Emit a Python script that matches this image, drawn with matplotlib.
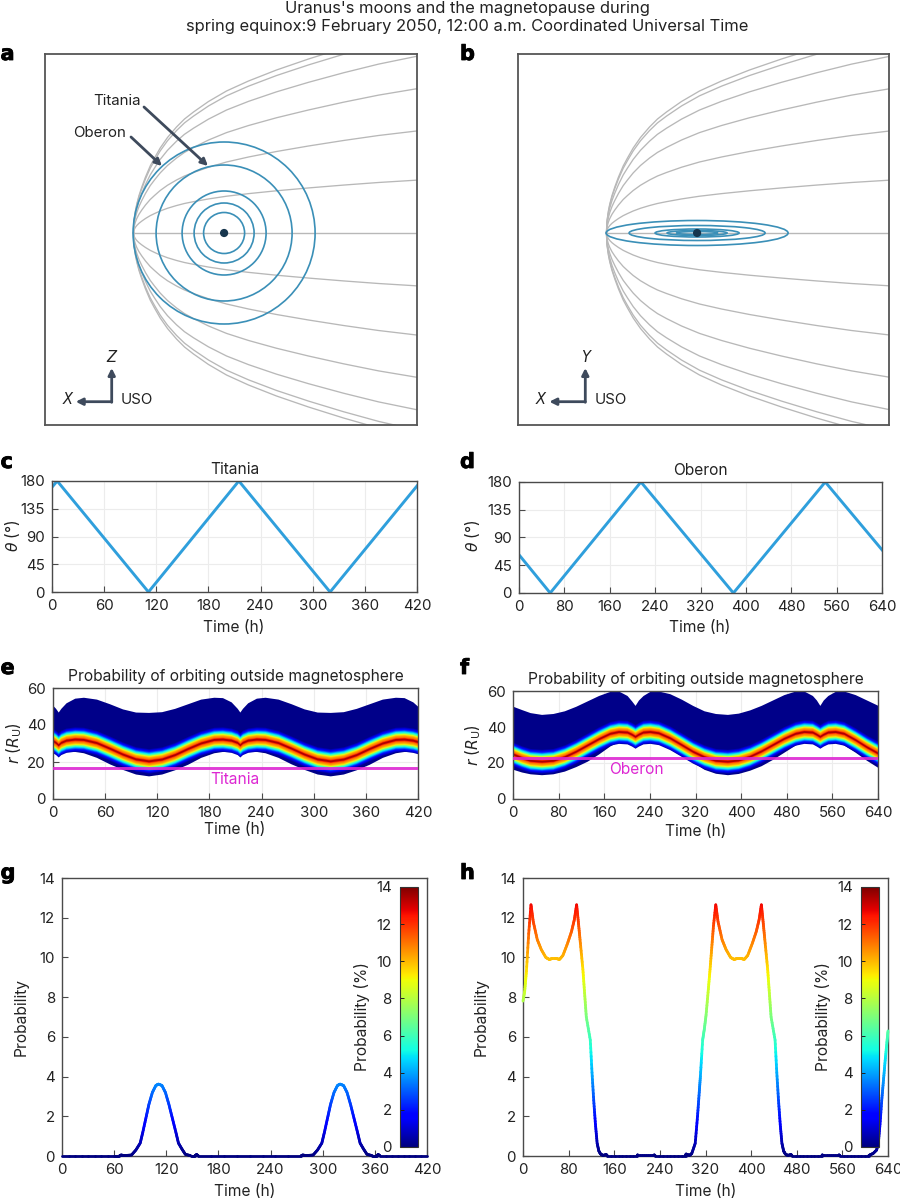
import numpy as np
import matplotlib
matplotlib.use("Agg")
import matplotlib.pyplot as plt
import matplotlib.patheffects as pe
from matplotlib.collections import LineCollection
from matplotlib.colors import Normalize
from matplotlib.patches import Circle, Ellipse, FancyArrowPatch

plt.rcParams["font.family"] = ["Inter", "DejaVu Sans"]
plt.rcParams["mathtext.fontset"] = "custom"
plt.rcParams["mathtext.rm"] = "Inter"
plt.rcParams["mathtext.it"] = "DejaVu Sans:italic"

W, H = 900, 1200

mp_dist = [0, 0.25, 0.7, 2, 3.3, 5.5, 8.3, 12, 16.7, 21, 26.7, 34, 43, 51, 60, 75, 93, 115, 143, 175, 210, 245, 283]
mp_outer = [0, 8, 13.4, 22.5, 29, 37.5, 46, 56, 67, 75, 85, 95.5, 106, 114, 121, 131.5, 142, 152, 163, 174, 185, 195, 204]
# each drawn line is the outer one times this share (they read as meridians 15 degrees apart)
mp_share = [1.0, 0.966, 0.866, 0.707, 0.5, 0.259]

planet_dist = 90.6
orbit_major = [20.5, 30, 42, 68, 91]
orbit_minor_b = [1.5, 2.5, 4, 7.5, 12.5]

# theta panels
titania_t = [0, 6, 111, 215, 320, 420]
titania_theta = [170, 180, 0, 180, 0, 172]
oberon_t = [0, 55, 215, 378, 540, 640]
oberon_theta = [62, 0, 180, 0, 180, 70]

# panel e
e_time = [0, 3, 6, 9, 15, 25, 35, 50, 65, 80, 95, 110, 125, 140, 155, 170, 185, 195, 205, 212, 215,
          218, 224, 234, 244, 259, 274, 289, 304, 319, 334, 349, 364, 379, 394, 404, 414, 420]
e_center = [31.5, 30.6, 29.3, 30.6, 31.8, 32.4, 32.2, 30.5, 27.5, 24.3, 21.7, 20.6, 21.6, 24, 27.3, 30.3, 32.2, 32.4, 31.8, 30.6, 29.3,
            30.6, 31.8, 32.4, 32.2, 30.5, 27.5, 24.3, 21.7, 20.6, 21.6, 24, 27.3, 30.3, 32.2, 32.4, 31.8, 31]
e_upper = [50.5, 49, 47, 49, 52, 54.5, 55, 54, 51.5, 48.7, 47, 46.8, 47.2, 49, 51.5, 54, 55, 54.8, 52.5, 49, 47,
           49, 52, 54.5, 55, 54, 51.5, 48.7, 47, 46.8, 47.2, 49, 51.5, 54, 55, 54.8, 52.5, 50]
e_lower = [25.5, 25, 24.2, 25, 25.7, 25.7, 25, 22.5, 19, 16, 13.5, 12.5, 13.5, 15.8, 18.8, 22.5, 25, 25.7, 25.6, 25, 24.2,
           25, 25.7, 25.7, 25, 22.5, 19, 16, 13.5, 12.5, 13.5, 15.8, 18.8, 22.5, 25, 25.7, 25.6, 25.3]

# panel f
f_time = [0, 15, 30, 50, 70, 90, 110, 130, 150, 170, 185, 200, 208, 214, 220, 228, 240, 255, 275, 295, 315,
          335, 355, 376, 395, 415, 435, 455, 475, 495, 510, 525, 532, 538, 544, 552, 565, 580, 600, 620, 640]
f_center = [25, 23, 21.5, 21, 21.5, 23.5, 26.5, 30, 33.5, 36.5, 37.5, 37.2, 36, 34.8, 36, 37.2, 37.5, 36.8, 34, 30.3, 26.5,
            23.5, 21.5, 21, 21.7, 23.7, 26.7, 30.2, 33.7, 36.5, 37.5, 37.2, 36, 34.8, 36, 37.2, 37.5, 36.5, 33, 29, 25.5]
f_upper = [51.5, 49.7, 48, 47, 47.5, 49, 51.5, 54.5, 57.5, 59.8, 60, 57.5, 54.5, 52, 55, 57.5, 59.8, 60, 58.5, 55.5, 52,
           49, 47.5, 47, 47.7, 49.5, 52, 55, 58, 60, 60, 57.5, 55, 52, 55, 57.5, 59.8, 60, 58, 55, 52]
f_lower = [16.5, 15, 14, 13.5, 14, 15.5, 18, 21, 25, 29.5, 32, 32, 31.3, 30.8, 31.5, 32.2, 32.2, 31, 28, 24, 20.5,
           16.5, 14.3, 13.5, 14.2, 16, 18.5, 22, 26, 30, 32, 32.2, 31.4, 30.8, 31.5, 32.2, 32, 30, 26, 21.5, 17.5]

# colour profile of the band around its ridge: distance from ridge, share of the colour map
band_offset = [6.6, 6.1, 5.6, 5.1, 4.7, 4.3, 3.9, 3.5, 3.1, 2.8, 2.5, 2.0, 1.4, 0.9, 0.5]
band_level = [0.05, 0.09, 0.14, 0.2, 0.27, 0.34, 0.41, 0.48, 0.56, 0.64, 0.7, 0.75, 0.79, 0.87, 0.96]

# probability panels
g_time = [0, 60, 66, 68, 72, 80, 85, 90, 93, 97, 100, 104, 108, 111, 115, 119, 123, 127, 131, 134, 138, 142, 148, 153, 155, 157,
          275, 277, 281, 289, 294, 299, 302, 306, 309, 313, 317, 320, 324, 328, 332, 336, 340, 343, 347, 351, 357, 362, 364, 366, 420]
g_prob = [0, 0, 0, 0.05, 0.02, 0.05, 0.3, 0.65, 1.2, 2, 2.6, 3.2, 3.55, 3.62, 3.55, 3.2, 2.6, 1.9, 1.2, 0.65, 0.35, 0.08, 0.02, 0.02, 0.07, 0,
          0, 0.05, 0.02, 0.05, 0.3, 0.65, 1.2, 2, 2.6, 3.2, 3.55, 3.62, 3.55, 3.2, 2.6, 1.9, 1.2, 0.65, 0.35, 0.08, 0.02, 0.02, 0.07, 0, 0]
h_time = [0, 3, 6, 10, 14, 18, 25, 32, 40, 46, 52, 58, 64, 70, 78, 85, 90, 94, 97, 100, 105, 108, 111, 118, 121, 124, 127, 130, 133, 136, 140, 146, 148,
          200, 201, 230, 232, 285, 286, 292, 296, 302, 306, 309, 311, 315, 318, 321, 325, 328, 331, 334, 338, 342, 349, 356, 364, 370, 376, 382, 388, 394, 402, 409, 414, 418,
          421, 424, 429, 432, 435, 442, 445, 448, 451, 454, 457, 460, 464, 470, 472, 524, 525, 554, 556, 606, 608, 614, 620, 623, 626, 629, 632, 635, 638, 640]
h_prob = [7.8, 8.3, 9.3, 11.2, 12.65, 11.8, 10.9, 10.4, 10, 9.9, 9.95, 9.95, 9.9, 10.1, 10.7, 11.3, 11.9, 12.65, 11.8, 10.9, 9.4, 8.2, 7, 5.84, 4.2, 2.8, 1.6, 0.64, 0.25, 0.1, 0.03, 0.07, 0,
          0, 0.06, 0.06, 0, 0, 0.1, 0.03, 0.13, 0.64, 2, 3.2, 4, 5.84, 6.4, 7.1, 8.4, 9.4, 10.5, 11.6, 12.65, 11.8, 10.9, 10.4, 10, 9.9, 9.95, 9.95, 9.9, 10.1, 10.7, 11.3, 11.9, 12.65,
          11.8, 10.9, 9.4, 8.2, 7, 5.84, 4.2, 2.8, 1.6, 0.64, 0.25, 0.1, 0.03, 0.07, 0, 0, 0.06, 0.06, 0, 0, 0.05, 0.13, 0.3, 0.64, 1.6, 2.8, 3.8, 4.8, 5.7, 6.3]

DARK = "#4a4a4a"
TEXT = "#222222"
GRAY = "#b8b8b8"
BLUE = "#3a8fb7"
ARROW = "#3e4a5c"
MAGENTA = "#dd27d2"
FS = 10.8


def box(x0, y0, x1, y1):
    return [x0 / W, 1 - y1 / H, (x1 - x0) / W, (y1 - y0) / H]


def fpos(x, y):
    return x / W, 1 - y / H


fig = plt.figure(figsize=(W / 100, H / 100), dpi=100)


def ftext(x, y, s, **kw):
    kw.setdefault("fontsize", FS)
    kw.setdefault("color", TEXT)
    kw.setdefault("ha", "center")
    kw.setdefault("va", "center")
    return fig.text(*fpos(x, y), s, **kw)


def farrow(x0, y0, x1, y1, width=2.0):
    fig.add_artist(FancyArrowPatch(fpos(x0, y0), fpos(x1, y1), transform=fig.transFigure,
                                   arrowstyle="-|>,head_length=4,head_width=2.0", lw=width,
                                   color=ARROW, shrinkA=0, shrinkB=0, zorder=5))


def style(ax, xticks, yticks, grid=True):
    ax.set_xticks(xticks)
    ax.set_yticks(yticks)
    ax.tick_params(direction="in", length=4.5, width=0.8, color=DARK, labelsize=FS, labelcolor=TEXT, pad=5, top=False, right=False)
    ax.set_xlim(xticks[0], xticks[-1])
    ax.set_ylim(yticks[0], yticks[-1])
    for s in ax.spines.values():
        s.set_color(DARK)
        s.set_linewidth(1.0)
    if grid:
        ax.grid(True, color="#ececec", lw=0.8)
        ax.set_axisbelow(True)


def labels(ax, xlabel_pos, ylabel_pos, ylabel):
    ax.set_xlabel("Time (h)", fontsize=FS + 0.4, color=TEXT)
    ax.set_ylabel(ylabel, fontsize=FS + 0.4, color=TEXT)
    ax.xaxis.set_label_coords(*fpos(*xlabel_pos), transform=fig.transFigure)
    ax.yaxis.set_label_coords(*fpos(*ylabel_pos), transform=fig.transFigure)
    ax.xaxis.label.set_va("center")
    ax.yaxis.label.set_va("center")


# --------------------------
# a, b - orbits and magnetopause
# --------------------------
def orbit_panel(rect, minors):
    ax = fig.add_axes(box(*rect))
    ax.set_xlim(-88.5, rect[2] - rect[0] - 88.5)
    ax.set_ylim(-192, 179)
    ax.set_xticks([])
    ax.set_yticks([])
    for s in ax.spines.values():
        s.set_color("#555555")
        s.set_linewidth(1.3)
    ax.plot(mp_dist, np.zeros(len(mp_dist)), color=GRAY, lw=1.0, zorder=1)
    for share in mp_share:
        ax.plot(mp_dist, share * np.array(mp_outer), color=GRAY, lw=0.95, zorder=1)
        ax.plot(mp_dist, -share * np.array(mp_outer), color=GRAY, lw=0.95, zorder=1)
    for a, b in zip(orbit_major, minors):
        ax.add_patch(Ellipse((planet_dist, 0), 2 * a, 2 * b, fill=False, ec=BLUE, lw=1.2, zorder=2))
    ax.add_patch(Circle((planet_dist, 0), 3.4, color="#17364d", zorder=3))
    return ax


orbit_panel((45, 54, 417, 425), orbit_major)
orbit_panel((518, 54, 889, 425), orbit_minor_b)

ftext(467, 8.5, "Uranus's moons and the magnetopause during", fontsize=11.9)
ftext(467, 27, "spring equinox:9 February 2050, 12:00 a.m. Coordinated Universal Time", fontsize=11.9)

ftext(117, 101, "Titania")
ftext(100, 133, "Oberon")
farrow(144, 107, 208, 166)
farrow(131, 137, 162, 166)

for cx, name, lab in [(111.7, "Z", "USO"), (585.3, "Y", "USO")]:
    farrow(cx, 401.7, cx - 36, 401.7)
    farrow(cx, 402.3, cx, 368)
    ftext(cx - 44.5, 400, "X", style="italic", family="DejaVu Sans", fontsize=10.5)
    ftext(cx, 357, name, style="italic", family="DejaVu Sans", fontsize=10.5)
    ftext(cx + 25.5, 400, lab)

for x, y, s in [(0.5, 54, "a"), (460, 54, "b"), (0.5, 462, "c"), (460, 462, "d"),
                (0.5, 668, "e"), (460, 668, "f"), (0.5, 873, "g"), (460, 873, "h")]:
    t = ftext(x, y, s, fontsize=15, fontweight="bold", color="black", family="DejaVu Sans", ha="left")
    t.set_path_effects([pe.withStroke(linewidth=0.6, foreground="black")])

# --------------------------
# c, d - theta
# --------------------------
theta_ticks = [0, 45, 90, 135, 180]
ax = fig.add_axes(box(52, 481, 417, 592))
ax.plot(titania_t, titania_theta, color="#2f9fdc", lw=2.1)
style(ax, list(range(0, 421, 60)), theta_ticks)
ax.set_title("Titania", fontsize=FS + 0.4, color=TEXT, pad=5)
labels(ax, (234, 628), (13, 536), r"$\theta$ (°)")

ax = fig.add_axes(box(519, 482, 882, 593))
ax.plot(oberon_t, oberon_theta, color="#2f9fdc", lw=2.1)
style(ax, list(range(0, 641, 80)), theta_ticks)
ax.set_title("Oberon", fontsize=FS + 0.4, color=TEXT, pad=5)
labels(ax, (700, 628), (473, 536), r"$\theta$ (°)")


# --------------------------
# e, f - probability bands
# --------------------------
def band_panel(rect, t, center, upper, lower, xticks, moon_r, moon, moon_pos, xlab, ylab):
    ax = fig.add_axes(box(*rect))
    jet = plt.get_cmap("jet")
    ax.fill_between(t, lower, upper, color=jet(0.01), lw=0, zorder=2)
    c = np.array(center)
    for off, lev in zip(band_offset, band_level):
        ax.fill_between(t, c - off, c + off, color=jet(lev), lw=0, zorder=2)
    ax.axhline(moon_r, color=MAGENTA, lw=2.1, zorder=3, alpha=0.9)
    ax.text(*moon_pos, moon, color=MAGENTA, fontsize=FS + 0.4, ha="center", va="center")
    style(ax, xticks, [0, 20, 40, 60])
    ax.set_title("Probability of orbiting outside magnetosphere", fontsize=FS + 0.4, color=TEXT, pad=5)
    labels(ax, xlab, ylab, r"$r$ ($R_{\mathrm{U}}$)")


band_panel((53, 688, 418, 799), e_time, e_center, e_upper, e_lower, list(range(0, 421, 60)), 17, "Titania",
           (209, 10.3), (235, 830), (14, 743))
band_panel((513, 691, 878, 799), f_time, f_center, f_upper, f_lower, list(range(0, 641, 80)), 23, "Oberon",
           (217, 16.5), (696, 831), (473, 745))


# --------------------------
# g, h - probability lines
# --------------------------
def prob_panel(rect, t, p, xticks, cbar_rect, xlab, ylab, cbar_lab):
    ax = fig.add_axes(box(*rect))
    style(ax, xticks, list(range(0, 15, 2)), grid=False)
    norm = Normalize(0, 14)
    segs, vals = [], []
    # straight segments cut in small pieces only so the colour runs smoothly along them
    for i in range(len(t) - 1):
        xs = np.linspace(t[i], t[i + 1], 9)
        ys = np.linspace(p[i], p[i + 1], 9)
        pts = np.column_stack([xs, ys])
        segs.extend(np.stack([pts[:-1], pts[1:]], axis=1))
        vals.extend((ys[:-1] + ys[1:]) / 2)
    lc = LineCollection(segs, cmap="jet", norm=norm, lw=2.0, capstyle="round", zorder=3, clip_on=False)
    lc.set_array(np.array(vals))
    ax.add_collection(lc)
    labels(ax, xlab, ylab, "Probability")
    cax = fig.add_axes(box(*cbar_rect))
    cb = fig.colorbar(lc, cax=cax, ticks=list(range(0, 15, 2)))
    cb.outline.set_edgecolor("#333333")
    cb.outline.set_linewidth(0.8)
    cax.yaxis.set_ticks_position("left")
    cax.tick_params(direction="in", length=3, width=0.7, color="#222222", labelsize=FS, labelcolor=TEXT, pad=6)
    ftext(cbar_lab[0], cbar_lab[1], "Probability (%)", rotation=90, fontsize=FS + 0.4)


prob_panel((62, 878, 427, 1156), g_time, g_prob, list(range(0, 421, 60)), (400, 887, 418, 1147), (245, 1192), (21, 1017), (362, 1017))
prob_panel((523, 878, 888, 1156), h_time, h_prob, list(range(0, 641, 80)), (861, 887, 879, 1147), (706, 1192), (481, 1017), (823, 1017))

fig.savefig("out.png", dpi=100)
